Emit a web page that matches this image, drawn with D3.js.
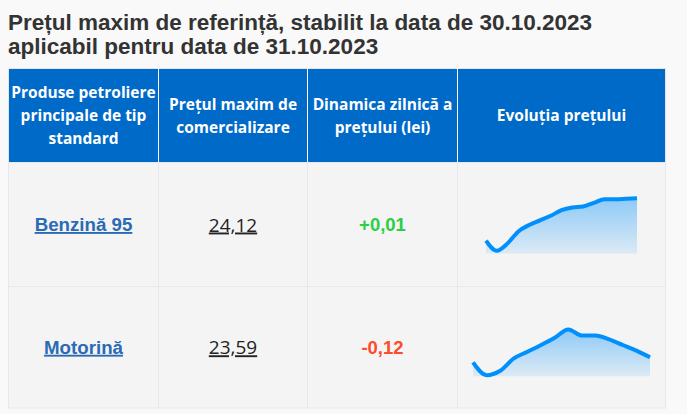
<!DOCTYPE html>
<html>
<head>
<meta charset="utf-8">
<script src="https://cdn.jsdelivr.net/npm/d3@7"></script>
<style>
  html, body { margin: 0; padding: 0; background: #f9f9f9; }
  svg { display: block; }
</style>
</head>
<body>
<div class="canvas"></div>
<script>
// --- data ---
const titleLines = ['Prețul maxim de referință, stabilit la data de 30.10.2023',
                    'aplicabil pentru data de 31.10.2023'];
const headers = [
  ['Produse petroliere', 'principale de tip', 'standard'],
  ['Prețul maxim de', 'comercializare'],
  ['Dinamica zilnică a', 'prețului (lei)'],
  ['Evoluția prețului']
];
const products = ['Benzină 95', 'Motorină'];
const prices = ['24,12', '23,59'];
const changes = ['+0,01', '-0,12'];
const benzinaHistory = [23.66, 23.55, 23.63, 23.76, 23.83, 23.88, 23.93, 23.99,
                        24.02, 24.03, 24.07, 24.11, 24.11, 24.115, 24.12];
const motorinaHistory = [23.50, 23.27, 23.35, 23.57, 23.69, 23.81, 23.94, 24.09,
                         23.98, 23.98, 23.91, 23.81, 23.71, 23.59];
const histories = [benzinaHistory, motorinaHistory];
const sparkDomains = [[23.52, 24.15], [23.25, 24.29]];

const width = 687, height = 414;
const colEdges = [8.5, 158.5, 307.5, 457.5, 665.5];
const tableTop = 68.5, headerBottom = 162.5;
const rowEdges = [headerBottom, 286.5, 408];
const sparkWidths = [151, 177];

const svg = d3.select('.canvas').append('svg')
    .attr('width', width)
    .attr('height', height);

// title
svg.selectAll('.title')
  .data(titleLines)
  .enter()
  .append('text')
  .attr('x', 8)
  .attr('y', (d, i) => 29.5 + i * 24)
  .attr('font-family', 'Liberation Sans, Arial, sans-serif')
  .attr('font-size', '22.5px')
  .attr('font-weight', 'bold')
  .attr('fill', '#333')
  .text(d => d);

// header
svg.append('rect')
  .attr('x', colEdges[0])
  .attr('y', tableTop)
  .attr('width', colEdges[4] - colEdges[0])
  .attr('height', headerBottom - tableTop)
  .attr('fill', '#006ac8')
  .attr('stroke', '#e4e6ea');

const header = svg.selectAll('.hcell')
  .data(headers)
  .enter()
  .append('g');

header.each(function(lines, i) {
  const cx = (colEdges[i] + colEdges[i + 1]) / 2;
  const cy = (tableTop + headerBottom) / 2;
  const lh = 23;
  d3.select(this).selectAll('text')
    .data(lines)
    .enter()
    .append('text')
    .attr('x', cx)
    .attr('y', (d, j) => cy + (j - (lines.length - 1) / 2) * lh + 5.5)
    .attr('text-anchor', 'middle')
    .attr('font-family', 'Open Sans, sans-serif')
    .attr('font-size', '15.5px')
    .attr('font-weight', 'bold')
    .attr('fill', 'white')
    .text(d => d);
});

svg.selectAll('.hsep')
  .data(colEdges.slice(1, 4))
  .enter()
  .append('line')
  .attr('x1', d => d).attr('x2', d => d)
  .attr('y1', tableTop).attr('y2', headerBottom)
  .attr('stroke', 'white')
  .attr('stroke-width', 1);

// body rows
const rows = svg.selectAll('.row')
  .data(products)
  .enter()
  .append('g');

rows.each(function(name, i) {
  const g = d3.select(this);
  const top = rowEdges[i], bottom = rowEdges[i + 1];
  const cy = (top + bottom) / 2;

  for (let c = 0; c < 4; c++) {
    g.append('rect')
      .attr('x', colEdges[c])
      .attr('y', top)
      .attr('width', colEdges[c + 1] - colEdges[c])
      .attr('height', bottom - top)
      .attr('fill', '#f4f4f4')
      .attr('stroke', '#e6e8ec');
  }

  const mid = c => (colEdges[c] + colEdges[c + 1]) / 2;

  g.append('text')
    .attr('x', mid(0))
    .attr('y', cy + 6.5)
    .attr('text-anchor', 'middle')
    .attr('font-family', 'Liberation Sans, Arial, sans-serif')
    .attr('font-size', '18.7px')
    .attr('font-weight', 'bold')
    .attr('fill', '#2b6ab4')
    .attr('text-decoration', 'underline')
    .text(name);

  g.append('text')
    .attr('x', mid(1))
    .attr('y', cy + 7)
    .attr('text-anchor', 'middle')
    .attr('font-family', 'Open Sans, sans-serif')
    .attr('font-size', '19px')
    .attr('fill', '#222')
    .attr('text-decoration', 'underline')
    .text(prices[i]);

  g.append('text')
    .attr('x', mid(2))
    .attr('y', cy + 6.5)
    .attr('text-anchor', 'middle')
    .attr('font-family', 'Liberation Sans, Arial, sans-serif')
    .attr('font-size', '18.5px')
    .attr('font-weight', 'bold')
    .attr('fill', changes[i].startsWith('-') ? '#ff4a2b' : '#2ccd47')
    .text(changes[i]);

  // sparkline
  const data = histories[i];
  const sw = sparkWidths[i];
  const x = d3.scaleLinear()
    .domain([0, data.length - 1])
    .range([mid(3) - sw / 2, mid(3) + sw / 2]);
  const y = d3.scaleLinear()
    .domain(sparkDomains[i])
    .range([cy + 29, cy - 29]);

  const gradId = 'spark-grad-' + i;
  const grad = svg.append('defs').append('linearGradient')
    .attr('id', gradId)
    .attr('x1', 0).attr('y1', 0).attr('x2', 0).attr('y2', 1);
  grad.append('stop').attr('offset', '0%').attr('stop-color', '#008ffb').attr('stop-opacity', 0.42);
  grad.append('stop').attr('offset', '100%').attr('stop-color', '#008ffb').attr('stop-opacity', 0.1);

  const area = d3.area()
    .x((d, k) => x(k))
    .y0(cy + 29)
    .y1(d => y(d))
    .curve(d3.curveMonotoneX);

  const line = d3.line()
    .x((d, k) => x(k))
    .y(d => y(d))
    .curve(d3.curveMonotoneX);

  g.append('path')
    .datum(data)
    .attr('fill', `url(#${gradId})`)
    .attr('d', area);

  g.append('path')
    .datum(data)
    .attr('fill', 'none')
    .attr('stroke', '#008ffb')
    .attr('stroke-width', 4)
    .attr('stroke-linejoin', 'round')
    .attr('d', line);
});
</script>
</body>
</html>
